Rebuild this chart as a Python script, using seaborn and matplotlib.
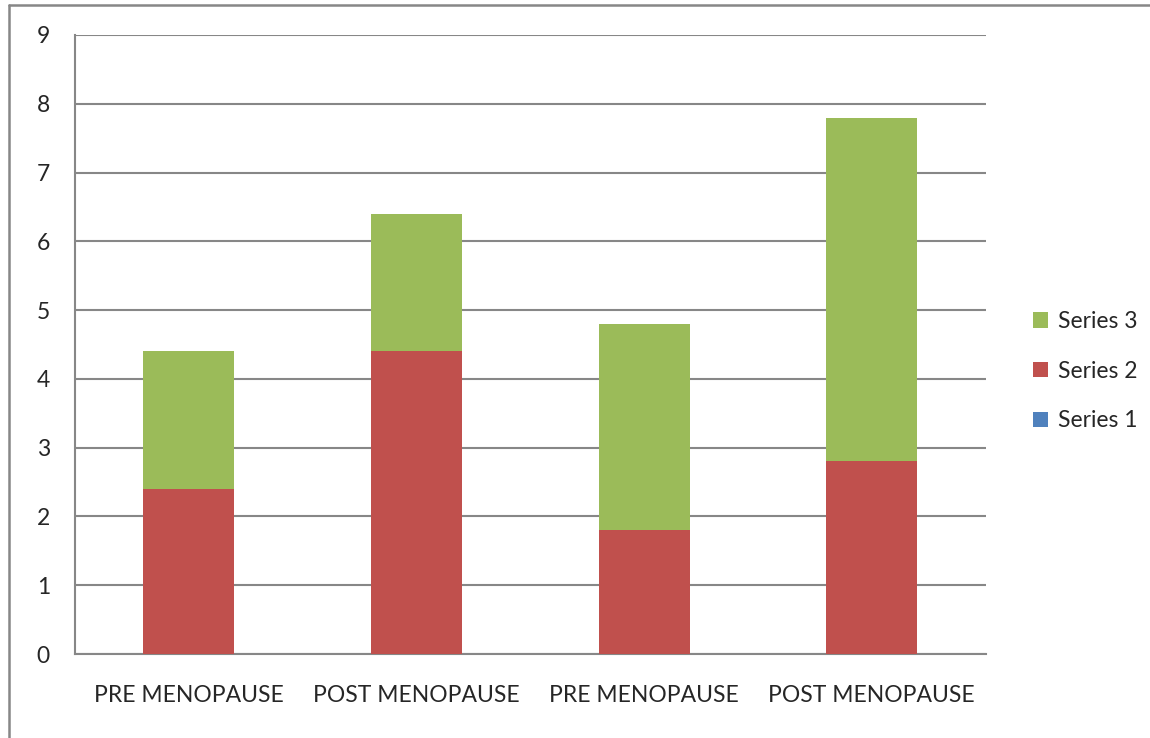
import matplotlib
matplotlib.use("Agg")
import matplotlib.pyplot as plt
from matplotlib.patches import Patch
from matplotlib.lines import Line2D
import numpy as np
import pandas as pd
import seaborn as sns

categories = ["PRE MENOPAUSE", "POST MENOPAUSE", "PRE MENOPAUSE", "POST MENOPAUSE"]
series1 = [0, 0, 0, 0]
series2 = [2.4, 4.4, 1.8, 2.8]
series3 = [2.0, 2.0, 3.0, 5.0]

colors = {"Series 1": "#4F81BD", "Series 2": "#C0504D", "Series 3": "#9BBB59"}
grid_color = "#878787"

sns.set_style("white")
plt.rcParams["font.family"] = ["Lato", "DejaVu Sans"]

ids = [str(i) for i in range(len(categories))]
df = pd.DataFrame({
    "id": ids,
    "s1": series1,
    "s12": np.add(series1, series2),
    "s123": np.add(np.add(series1, series2), series3),
})

fig = plt.figure(figsize=(11.5, 7.38), dpi=100)
ax = fig.add_axes([0.0652, 0.1138, 0.857 - 0.0652, 0.9526 - 0.1138])

# stacked by overdrawing cumulative totals
for col, name in [("s123", "Series 3"), ("s12", "Series 2"), ("s1", "Series 1")]:
    sns.barplot(data=df, x="id", y=col, order=ids, color=colors[name],
                width=0.4, saturation=1, ax=ax, zorder=3, linewidth=0)

ax.set_xlim(-0.5, len(ids) - 0.5)
ax.set_ylim(0, 9)
ax.set_yticks(range(10))
ax.yaxis.grid(True, color=grid_color, linewidth=1.5, zorder=0)
ax.set_axisbelow(True)
ax.set_xlabel("")
ax.set_ylabel("")

ax.set_xticks(range(len(ids)))
ax.set_xticklabels(categories)
ax.set_xticks(np.arange(-0.5, len(ids), 1.0), minor=True)
ax.tick_params(axis="x", which="major", length=0, pad=22, labelsize=16.5)
ax.tick_params(axis="x", which="minor", length=7, width=1.5, color=grid_color)
ax.tick_params(axis="y", length=8, width=1.5, color=grid_color, pad=10, labelsize=16.5)

for s in ["top", "right"]:
    ax.spines[s].set_visible(False)
for s in ["left", "bottom"]:
    ax.spines[s].set_color(grid_color)
    ax.spines[s].set_linewidth(1.5)

handles = [Patch(facecolor=colors[n], edgecolor="none", label=n)
           for n in ["Series 3", "Series 2", "Series 1"]]
fig.legend(handles=handles, loc="center left", bbox_to_anchor=(0.88, 0.497),
           frameon=False, fontsize=16.5, handlelength=0.65, handleheight=0.65,
           handletextpad=0.45, labelspacing=1.25)

# outer chart border (left and top edges visible)
fig.add_artist(Line2D([0.0075, 0.0075], [0, 0.993], transform=fig.transFigure,
                      color=grid_color, linewidth=1.8))
fig.add_artist(Line2D([0.0075, 1.0], [0.993, 0.993], transform=fig.transFigure,
                      color=grid_color, linewidth=1.8))

fig.savefig("out.png", dpi=100)
